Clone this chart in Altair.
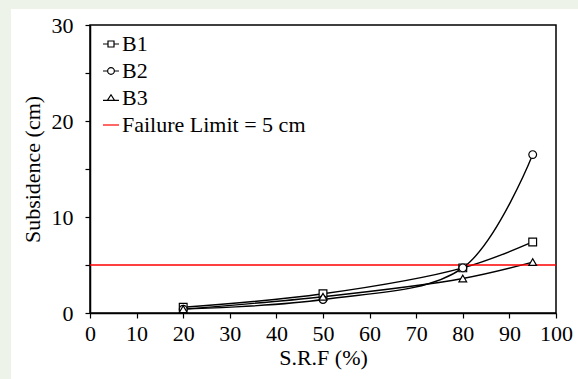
import altair as alt
import pandas as pd

srf = [20, 50, 80, 95]
b1 = [0.6, 2.0, 4.7, 7.4]
b2 = [0.4, 1.4, 4.7, 16.5]
b3 = [0.4, 1.7, 3.6, 5.3]
series_names = ["B1", "B2", "B3"]
series_shapes = ["square", "circle", "triangle-up"]
limit_label = "Failure Limit = 5 cm"
limit_value = 5
x_ticks = list(range(0, 101, 5))
y_ticks = [i * 2.5 for i in range(13)]

rows = []
for name, vals in zip(series_names, [b1, b2, b3]):
    for x, y in zip(srf, vals):
        rows.append({"series": name, "srf": x, "sub": y})
df = pd.DataFrame(rows)

FONT = "Liberation Serif"
FS = 22

xs = alt.Scale(domain=[0, 100], nice=False)
ys = alt.Scale(domain=[0, 30], nice=False)

x_axis = alt.Axis(values=x_ticks, labelExpr="datum.value % 10 === 0 ? datum.label : ''",
                  title="S.R.F (%)", grid=False, tickSize=5, labelPadding=5,
                  titlePadding=3, labelFlush=False, labelFont=FONT, titleFont=FONT)
y_axis = alt.Axis(values=y_ticks, labelExpr="datum.value % 10 === 0 ? datum.label : ''",
                  title="Subsidence (cm)", grid=False, tickSize=5, labelPadding=12,
                  titlePadding=7, labelFont=FONT, titleFont=FONT)

strip = pd.DataFrame({"a": [0]})
bg_left = alt.Chart(strip).mark_rect(fill="#eef3ea").encode(
    x=alt.value(-90), x2=alt.value(-79), y=alt.value(-25), y2=alt.value(354)
)
bg_top = alt.Chart(strip).mark_rect(fill="#eef3ea").encode(
    x=alt.value(-90), x2=alt.value(488), y=alt.value(-25), y2=alt.value(-16)
)

lines = alt.Chart(df).mark_line(interpolate="catmull-rom", color="black", strokeWidth=1.4).encode(
    x=alt.X("srf:Q", scale=xs, axis=x_axis),
    y=alt.Y("sub:Q", scale=ys, axis=y_axis),
    detail="series:N",
)

rule = alt.Chart(pd.DataFrame({"v": [limit_value]})).mark_rule(color="#ff0000", strokeWidth=1.5).encode(
    y=alt.Y("v:Q", scale=ys)
)

point_layers = []
for name, shp in zip(series_names, series_shapes):
    point_layers.append(
        alt.Chart(df).transform_filter(alt.datum.series == name).mark_point(
            shape=shp, filled=False, fill="white", color="black", strokeWidth=1.2, size=60, opacity=1
        ).encode(
            x=alt.X("srf:Q", scale=xs),
            y=alt.Y("sub:Q", scale=ys),
        )
    )

legend_labels = series_names + [limit_label]
sq = "M-1,0H-0.375M0.375,0H1M-0.375,-0.375H0.375V0.375H-0.375Z"
ci = "M-1,0H-0.42M0.42,0H1M0.42,0A0.42,0.42 0 1 1 -0.42,0A0.42,0.42 0 1 1 0.42,0Z"
tr = "M-1,0.3H-0.45M0.45,0.3H1M-0.45,0.3L0,-0.4L0.45,0.3Z"
ln = "M-1,0H1"

legend_layer = alt.Chart(pd.DataFrame({"label": legend_labels})).mark_point(filled=False, strokeWidth=1.2).encode(
    x=alt.X("srf:Q", scale=xs),
    y=alt.Y("sub:Q", scale=ys),
    color=alt.Color("label:N", scale=alt.Scale(domain=legend_labels, range=["black", "black", "black", "#ff0000"]),
                    legend=alt.Legend(title=None, orient="none", legendX=10, legendY=8,
                                      labelFont=FONT, labelFontSize=FS, labelColor="black",
                                      labelLimit=400,
                                      symbolSize=256, symbolStrokeWidth=1.2, rowPadding=5,
                                      labelOffset=0, symbolOpacity=1)),
    shape=alt.Shape("label:N", scale=alt.Scale(domain=legend_labels, range=[sq, ci, tr, ln])),
).transform_filter("false")

chart = alt.layer(bg_left, bg_top, lines, rule, *point_layers, legend_layer).properties(
    width=466, height=288,
    autosize=alt.AutoSizeParams(type="none"),
    padding={"left": 90, "top": 25, "right": 22, "bottom": 66},
    background="white",
).configure_view(stroke="black", strokeWidth=1.5).configure_axis(
    domainColor="black", domainWidth=1.5, tickColor="black", tickWidth=1.2,
    labelFontSize=FS, labelColor="black",
    titleFontSize=FS, titleColor="black", titleFontWeight="normal",
    zindex=1,
)

chart.save("out.html", embed_options={"renderer": "svg", "actions": False})
